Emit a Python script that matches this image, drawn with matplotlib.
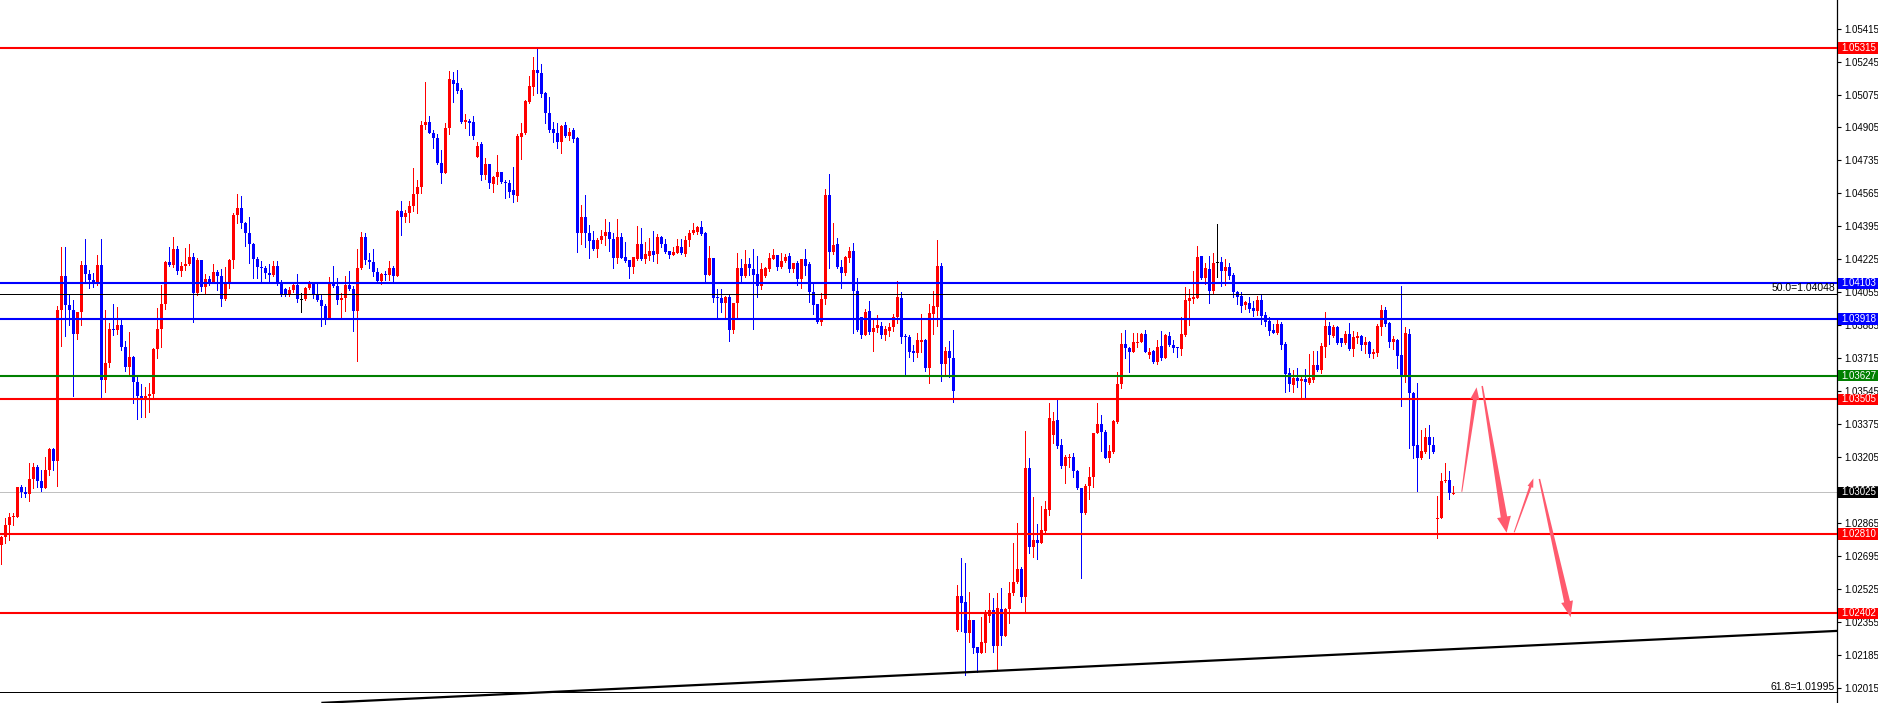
import numpy as np
import matplotlib
matplotlib.use("Agg")
import matplotlib.pyplot as plt
from matplotlib.patches import Polygon, Rectangle
from matplotlib.transforms import blended_transform_factory, IdentityTransform

plt.rcParams['font.family'] = ['Liberation Sans', 'DejaVu Sans']

# candle prices in points (1e-5), oldest first
open_pts = [
    102754, 102797, 102857, 102896, 102900, 103054, 103029, 103015, 103092, 103157, 103085, 103049, 103140,
    103248, 103188, 103965, 104140, 103991, 103965, 103841, 103954, 104197, 104149, 104119, 104111, 104197,
    103604, 103690, 103867, 103862, 103887, 103776, 103673, 103724, 103595, 103522, 103513, 103522, 103532,
    103764, 103867, 103996, 104210, 104197, 104279, 104167, 104191, 104202, 104236, 104051, 104222, 104085,
    104123,
    104102, 104160, 104140, 104021, 104102, 104222, 104454, 104488, 104415, 104363, 104303, 104229, 104184,
    104183, 104157, 104145, 104190, 104102, 104071, 104045, 104068, 104093, 104021, 104021, 104076, 104107,
    104042, 104016, 103987, 103922, 104102, 104088, 104016, 104028, 104093, 104073, 103959, 104183, 104339,
    104222, 104214, 104162, 104114, 104148, 104145, 104183, 104141, 104476, 104445, 104463, 104502,
    104562, 104600, 104918, 104932, 104879, 104849, 104720, 104672, 104901, 105150, 105136, 105098, 104935,
    104940, 104933, 104755, 104820, 104660, 104717, 104612, 104648, 104674, 104623, 104617, 104583, 104554,
    104858, 104875, 105038, 105116, 105201, 105184, 105085, 104982, 104896, 104875, 104832, 104916, 104861,
    104892, 104853, 104360, 104442, 104363, 104325, 104277, 104325, 104348, 104365, 104329, 104234,
    104339, 104236, 104222, 104188, 104226, 104305, 104229, 104244, 104269, 104251, 104339, 104303, 104269,
    104248, 104260, 104287, 104253, 104325, 104360, 104368, 104391, 104363, 104145, 104231, 104028, 104025,
    104002, 104033, 103861, 103999, 104179, 104140, 104202, 104174, 104148, 104088, 104140, 104176, 104227,
    104248, 104184, 104219, 104243, 104176, 104208, 104124, 104227, 104202, 104059, 103995, 103901, 104019,
    104557, 104265, 104305, 104184, 104157, 104234, 104269, 104064, 103930, 103836, 103959, 103853, 103870,
    103884, 103836, 103858, 103875, 103927, 104028, 103831, 103827, 103753, 103745, 103801, 103810, 103667,
    103944, 103978, 104191, 103685, 103753, 103719, 102316, 102491, 102462, 102302, 102367, 102226, 102199,
    102250, 102388, 102419, 102233, 102424, 102285, 102422, 102508, 102565, 102628, 102487, 103149,
    102745, 102779, 102766, 102826, 102934, 103320, 103398, 103269, 103162, 103204, 103205, 103135, 103046,
    102917, 103059, 103102, 103329, 103377, 103334, 103204, 103235, 103389, 103583, 103789, 103770, 103750,
    103796, 103801, 103841, 103733, 103755, 103698, 103779, 103719, 103831, 103784, 103776, 103762, 103836,
    104013, 104021, 104028, 104243, 104131, 104176, 104064, 104210, 104214, 104167, 104184, 104145, 104059,
    104037, 103990, 103999, 103977, 103959, 104016, 103939, 103908, 103862, 103844, 103893, 103788, 103638,
    103578, 103616, 103599, 103609, 103587, 103604, 103681, 103655, 103776, 103882, 103832, 103879, 103819,
    103793, 103841, 103764, 103822, 103831, 103784, 103801, 103738, 103741, 103879, 103965, 103896, 103801,
    103810, 103733, 103630, 103841, 103539, 103269, 103204, 103235, 103312, 103269, 102886, 102891, 103083,
    103089, 103017,
]
close_pts = [
    102797, 102857, 102896, 102900, 103054, 103029, 103015, 103092, 103157, 103085, 103049, 103140, 103248,
    103188, 103965, 104140, 103991, 103965, 103841, 103954, 104197, 104149, 104119, 104111, 104197, 103604,
    103690, 103867, 103862, 103887, 103776, 103673, 103724, 103595, 103522, 103513, 103522, 103532, 103764,
    103867, 103996, 104210, 104197, 104279, 104167, 104191, 104202, 104236, 104051, 104222, 104085, 104123,
    104102,
    104160, 104140, 104021, 104102, 104222, 104454, 104488, 104415, 104363, 104303, 104229, 104184, 104183,
    104157, 104145, 104190, 104102, 104045, 104045, 104068, 104093, 104021, 104021, 104076, 104107, 104042,
    104016, 103987, 103922, 104102, 104088, 104016, 104028, 104093, 104073, 103959, 104183, 104339, 104222,
    104214, 104162, 104114, 104148, 104145, 104183, 104141, 104476, 104445, 104463, 104502, 104562,
    104600, 104918, 104932, 104879, 104849, 104720, 104672, 104901, 105155, 105129, 105093, 104935, 104944,
    104930, 104861, 104810, 104660, 104717, 104617, 104652, 104674, 104623, 104617, 104574, 104557, 104861,
    104875, 105042, 105121, 105201, 105184, 105076, 104978, 104892, 104875, 104832, 104913, 104861, 104882,
    104846, 104360, 104442, 104363, 104322, 104277, 104325, 104348, 104365, 104329, 104234, 104339,
    104234, 104219, 104188, 104236, 104305, 104226, 104253, 104269, 104248, 104339, 104303, 104265, 104248,
    104262, 104294, 104257, 104325, 104363, 104377, 104394, 104356, 104145, 104231, 104025, 104025, 104002,
    104033, 103861, 103999, 104179, 104140, 104202, 104179, 104145, 104088, 104174, 104179, 104231, 104248,
    104188, 104217, 104236, 104176, 104205, 104124, 104227, 104193, 104059, 103990, 103901, 104019, 104557,
    104265, 104299, 104184, 104157, 104236, 104269, 104064, 103861, 103836, 103953, 103853, 103870, 103887,
    103836, 103865, 103879, 103927, 104030, 103827, 103824, 103750, 103745, 103810, 103810, 103667, 103947,
    103985, 104191, 103685, 103753, 103719, 103549, 102491, 102456, 102302, 102367, 102221, 102199, 102256,
    102396, 102419, 102233, 102427, 102285, 102422, 102508, 102565, 102628, 102487, 103149, 102745,
    102779, 102766, 102831, 102937, 103406, 103393, 103266, 103162, 103205, 103205, 103135, 103046, 102917,
    103059, 103106, 103332, 103377, 103334, 103204, 103240, 103393, 103583, 103789, 103767, 103750, 103798,
    103801, 103841, 103750, 103746, 103698, 103776, 103719, 103836, 103784, 103771, 103767, 103841, 104016,
    104028, 104030, 104239, 104131, 104179, 104064, 104208, 104210, 104167, 104184, 104140, 104059, 104033,
    103987, 104004, 103970, 103959, 104016, 103934, 103905, 103858, 103848, 103893, 103784, 103635, 103582,
    103616, 103599, 103607, 103592, 103613, 103681, 103655, 103779, 103882, 103836, 103879, 103793, 103796,
    103841, 103764, 103824, 103831, 103784, 103798, 103738, 103747, 103882, 103965, 103893, 103801, 103815,
    103729, 103630, 103844, 103535, 103266, 103204, 103238, 103308, 103269, 103235, 102891, 103083, 103089,
    103020, 103020,
]
high_pts = [
    102800, 102891, 102917, 102917, 103054, 103063, 103054, 103175, 103175, 103166, 103140, 103209, 103252,
    103252, 103985, 104291, 104291, 104042, 104016, 103954, 104219, 104331, 104171, 104154, 104248, 104331,
    103965, 103896, 103996, 103979, 103917, 103805, 103853, 103728, 103621, 103583, 103570, 103587, 103767,
    103973, 104094, 104217, 104288, 104339, 104296, 104214, 104283, 104303, 104260, 104231, 104222, 104149,
    104140,
    104202, 104171, 104176, 104188, 104226, 104463, 104562, 104552, 104418, 104444, 104308, 104236, 104217,
    104193, 104202, 104217, 104217, 104119, 104080, 104085, 104105, 104150, 104050, 104085, 104114, 104107,
    104102, 104045, 103995, 104136, 104191, 104131, 104050, 104140, 104165, 104088, 104279, 104366, 104360,
    104257, 104279, 104183, 104153, 104165, 104217, 104191, 104480, 104526, 104480, 104526, 104698,
    104635, 104939, 105141, 104964, 104892, 104870, 104789, 104927, 105196, 105189, 105201, 105107, 104975,
    104949, 104964, 104830, 104830, 104750, 104717, 104655, 104763, 104674, 104635, 104635, 104703, 104870,
    104927, 105047, 105170, 105267, 105313, 105232, 105090, 105064, 104935, 104927, 104918, 104935, 104904,
    104901, 104854, 104506, 104557, 104403, 104373, 104334, 104377, 104432, 104420, 104360, 104432,
    104360, 104317, 104222, 104236, 104397, 104385, 104313, 104334, 104372, 104356, 104346, 104329, 104269,
    104287, 104329, 104329, 104346, 104377, 104411, 104397, 104423, 104368, 104294, 104231, 104071, 104071,
    104037, 104042, 104002, 104257, 104227, 104274, 104234, 104277, 104243, 104205, 104184, 104257, 104279,
    104248, 104257, 104253, 104260, 104205, 104217, 104227, 104279, 104214, 104102, 103995, 104050, 104588,
    104665, 104415, 104334, 104222, 104243, 104287, 104308, 104128, 103930, 103968, 104011, 103916, 103939,
    103901, 103884, 103899, 103942, 104114, 104056, 103841, 103836, 103784, 103848, 103944, 103815, 103995,
    104064, 104325, 104205, 103776, 103805, 103862, 102547, 102688, 102663, 102513, 102367, 102230, 102384,
    102419, 102508, 102482, 102504, 102534, 102431, 102565, 102766, 102865, 102638, 103341, 103204,
    103003, 102862, 102955, 102980, 103487, 103441, 103501, 103300, 103217, 103222, 103226, 103140, 103046,
    103068, 103157, 103332, 103487, 103423, 103346, 103269, 103398, 103647, 103844, 103861, 103776, 103848,
    103844, 103848, 103861, 103767, 103758, 103810, 103856, 103839, 103853, 103810, 103776, 103927, 104081,
    104071, 104166, 104294, 104243, 104205, 104243, 104257, 104408, 104239, 104227, 104208, 104157, 104064,
    104059, 104013, 104030, 104013, 104037, 104042, 103953, 103927, 103893, 103917, 103901, 103798, 103664,
    103655, 103664, 103618, 103661, 103738, 103753, 103753, 103793, 103956, 103901, 103887, 103882, 103822,
    103858, 103899, 103858, 103850, 103836, 103827, 103805, 103762, 103893, 103990, 103978, 103901, 103831,
    103814, 104088, 103875, 103867, 103544, 103587, 103346, 103355, 103372, 103308, 103006, 103123, 103174,
    103135, 103058,
]
low_pts = [
    102654, 102766, 102780, 102857, 102896, 103003, 103003, 102982, 103046, 103054, 103034, 103049, 103115,
    103140, 103060, 103779, 103831, 103887, 103523, 103817, 103887, 104106, 104080, 104085, 104094, 103506,
    103541, 103673, 103836, 103841, 103759, 103652, 103635, 103487, 103403, 103415, 103415, 103441, 103513,
    103716, 103772, 103968, 104193, 104185, 104149, 104142, 104171, 104197, 103905, 104042, 104064, 104047,
    104094,
    104105, 104068, 103985, 104016, 104080, 104183, 104415, 104389, 104296, 104208, 104128, 104131, 104107,
    104131, 104107, 104140, 104093, 104038, 104037, 104038, 104059, 104004, 103956, 104016, 104071, 104025,
    104013, 103884, 103891, 103918, 104081, 103995, 103922, 103961, 104068, 103856, 103703, 104176, 104202,
    104183, 104140, 104105, 104097, 104119, 104119, 104105, 104141, 104351, 104420, 104420, 104476,
    104463, 104566, 104896, 104875, 104798, 104717, 104621, 104669, 104872, 105038, 105081, 104927, 104904,
    104866, 104848, 104755, 104635, 104638, 104595, 104574, 104614, 104617, 104544, 104549, 104523, 104528,
    104741, 104872, 105030, 105073, 105081, 105064, 104927, 104884, 104832, 104798, 104775, 104854, 104841,
    104832, 104265, 104305, 104288, 104231, 104274, 104239, 104308, 104300, 104270, 104179, 104209,
    104231, 104214, 104128, 104157, 104222, 104222, 104208, 104222, 104217, 104208, 104291, 104260, 104234,
    104248, 104257, 104253, 104245, 104294, 104356, 104356, 104351, 104116, 104145, 104007, 103930, 103956,
    103922, 103807, 103848, 103930, 104116, 104136, 104145, 103867, 104033, 104071, 104136, 104167, 104226,
    104171, 104179, 104214, 104162, 104162, 104093, 104080, 104145, 104007, 103944, 103896, 103887, 103995,
    104179, 104253, 104179, 104080, 104145, 104214, 103848, 103858, 103822, 103836, 103839, 103755, 103853,
    103822, 103810, 103832, 103858, 103899, 103796, 103635, 103724, 103702, 103724, 103750, 103652, 103587,
    103841, 103884, 103600, 103630, 103618, 103489, 102312, 102312, 102084, 102256, 102195, 102101, 102195,
    102204, 102359, 102204, 102109, 102238, 102285, 102350, 102496, 102559, 102462, 102410, 102714,
    102693, 102680, 102762, 102817, 102908, 103281, 103252, 103149, 103071, 103157, 103102, 103041, 102586,
    102913, 102989, 103054, 103329, 103240, 103200, 103183, 103226, 103384, 103561, 103715, 103643, 103750,
    103772, 103801, 103746, 103715, 103693, 103686, 103707, 103715, 103779, 103750, 103721, 103733, 103832,
    103887, 104002, 104028, 104124, 104097, 104002, 104047, 104136, 104088, 104093, 104123, 104033, 103995,
    103956, 103970, 103956, 103934, 103939, 103892, 103884, 103836, 103848, 103841, 103764, 103544, 103547,
    103544, 103570, 103513, 103518, 103582, 103595, 103652, 103642, 103724, 103789, 103827, 103788, 103781,
    103788, 103759, 103729, 103796, 103759, 103745, 103724, 103716, 103729, 103836, 103882, 103776, 103762,
    103667, 103472, 103595, 103255, 103200, 103034, 103195, 103226, 103200, 103226, 102791, 102891, 103080,
    102989, 103015,
]

# horizontal levels drawn on the chart
levels = [1.05315, 1.04103, 1.03918, 1.03627, 1.03505, 1.02810, 1.02402]
level_colors = ['#FF0000', '#0000FF', '#0000FF', '#008000', '#FF0000', '#FF0000', '#FF0000']
last_price = 1.03025
fib_levels = [1.04048, 1.01995]
fib_names = ['50.0', '61.8']
trend_x = [80, 459]
trend_y = [1.01940, 1.02311]
ytick_vals = [1.05415, 1.05245, 1.05075, 1.04905, 1.04735, 1.04565, 1.04395, 1.04225, 1.04055, 1.03885,
              1.03715, 1.03545, 1.03375, 1.03205, 1.03035, 1.02865, 1.02695, 1.02525, 1.02355, 1.02185,
              1.02015]

# forecast arrows (bar index, price) start -> tip
arrow_x = [[365.1, 368.8], [370.2, 376.3], [378.2, 383.0], [384.5, 392.3]]
arrow_y = [[1.03028, 1.03566], [1.03573, 1.02817], [1.02819, 1.03097], [1.03094, 1.02381]]
# tail width, shaft width, head width, head length (pixels)
arrow_size = [(1.0, 4.0, 9.0, 12.0), (1.5, 6.5, 14.0, 16.0), (1.0, 2.5, 6.0, 9.0), (1.5, 6.0, 12.0, 16.0)]

o = np.array(open_pts) / 1e5
c = np.array(close_pts) / 1e5
h = np.array(high_pts) / 1e5
l = np.array(low_pts) / 1e5
assert len(o) == len(c) == len(h) == len(l), (len(o), len(c), len(h), len(l))
h = np.maximum(h, np.maximum(o, c))
l = np.minimum(l, np.minimum(o, c))
x = np.arange(len(c))

W, H = 1878, 703
fig = plt.figure(figsize=(W / 100, H / 100), dpi=100)
fig.patch.set_facecolor('white')
ax = fig.add_axes([0, 0, 1837 / W, 1])
ax.set_facecolor('white')
ax.set_xlim(-0.333, 458.9)
ax.set_ylim(1.019394, 1.05562)

cols = np.where(c > o, '#FF0000', np.where(c < o, '#0000FF', '#000000'))
px = 0.72  # one pixel in points
ax.vlines(x, l, h, colors=cols, linewidth=px, zorder=2, antialiased=False)
body_lo = np.minimum(o, c)
body_h = np.abs(c - o)
min_h = 0.00005
body_lo = np.where(body_h < min_h, (o + c) / 2 - min_h / 2, body_lo)
body_h = np.maximum(body_h, min_h)
ax.bar(x, body_h, bottom=body_lo, width=0.75, color=cols, linewidth=0, zorder=2, antialiased=False)

# level lines
for lv, col in zip(levels, level_colors):
    ax.axhline(lv, color=col, linewidth=1.5, zorder=3)
ax.axhline(last_price, color='#C0C0C0', linewidth=px, zorder=1)
for lv in fib_levels:
    ax.axhline(lv, color='black', linewidth=px, zorder=3)
ax.plot(trend_x, trend_y, color='black', linewidth=1.6, zorder=3, solid_capstyle='butt')

# axis on the right
for s in ['left', 'top', 'bottom']:
    ax.spines[s].set_visible(False)
ax.spines['right'].set_linewidth(0.9)
ax.set_xticks([])
ax.yaxis.tick_right()
ax.set_yticks(ytick_vals)
ax.set_yticklabels([f"{v:.5f}" for v in ytick_vals])
ax.tick_params(axis='y', direction='out', length=3, width=0.8, pad=2, labelsize=7, colors='black')

# fib labels
for lv, nm in zip(fib_levels, fib_names):
    ax.text(458.4, lv + 0.00003, f"{nm}={lv:.5f}", ha='right', va='bottom', fontsize=7.5, color='black', zorder=4)

# price tags
tr = blended_transform_factory(fig.transFigure, ax.transData)
tag_h = 0.00058
tags = list(zip(levels, level_colors)) + [(last_price, '#000000')]
for lv, col in tags:
    ax.add_patch(Rectangle((1838 / W, lv - tag_h / 2), 40 / W, tag_h, transform=tr, facecolor=col,
                           edgecolor='none', clip_on=False, zorder=5))
    ax.text(1841 / W, lv, f"{lv:.5f}", transform=tr, ha='left', va='center', fontsize=7, color='white',
            clip_on=False, zorder=6)

# forecast arrows
fig.canvas.draw()
for (xa, ya), (w0, w1, hw, hl) in zip(zip(arrow_x, arrow_y), arrow_size):
    p0, p1 = ax.transData.transform(np.column_stack([xa, ya]))
    d = p1 - p0
    u = d / np.hypot(*d)
    n = np.array([-u[1], u[0]])
    b = p1 - u * hl
    pts = [p0 + n * w0 / 2, b + n * w1 / 2, b + n * hw / 2, p1, b - n * hw / 2, b - n * w1 / 2, p0 - n * w0 / 2]
    ax.add_patch(Polygon(pts, closed=True, transform=IdentityTransform(), facecolor='#FF5A6E',
                         edgecolor='none', clip_on=False, zorder=4))

fig.savefig('out.png', dpi=100)
